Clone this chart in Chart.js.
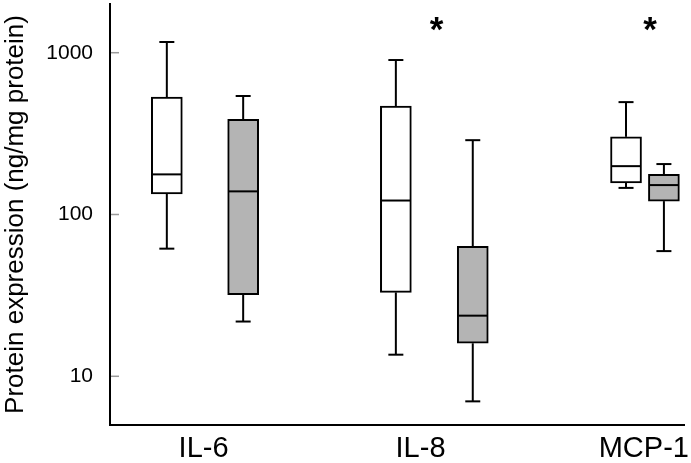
<!DOCTYPE html>
<html>
<head>
<meta charset="utf-8">
<script src="https://cdn.jsdelivr.net/npm/chart.js@4.4.1/dist/chart.umd.min.js"></script>
<style>
  html, body { margin: 0; padding: 0; background: #fff; }
  #wrap { width: 691px; height: 463px; }
</style>
</head>
<body>
<div id="wrap"><canvas id="chart" width="691" height="463"></canvas></div>
<script>
// Box plots of protein expression, white vs grey group, log scale.

const categories = ["IL-6", "IL-8", "MCP-1"];

const whiteMin = [61.5, 13.6, 146];
const whiteQ1 = [134, 33, 157];
const whiteMedian = [177, 122, 199];
const whiteQ3 = [532, 468, 302];
const whiteMax = [1165, 901, 495];

const greyMin = [21.8, 7.0, 59.4];
const greyQ1 = [31.9, 16.0, 121];
const greyMedian = [139, 23.7, 152];
const greyQ3 = [388, 63.5, 177];
const greyMax = [540, 288, 205];

const significant = ["", "*", "*"];
const yTicks = [10, 100, 1000];

// layout on the x axis (0..100 units)
const whiteX = [9.9, 49.8, 89.9];
const greyX = [23.2, 63.2, 96.5];
const labelX = [16.3, 54.1, 93.0];
const starX = [0, 56.9, 94.1];

const FONT = "'Liberation Sans', Arial, sans-serif";

const groups = [
  { min: whiteMin, q1: whiteQ1, med: whiteMedian, q3: whiteQ3, max: whiteMax, pos: whiteX, fill: "#ffffff" },
  { min: greyMin, q1: greyQ1, med: greyMedian, q3: greyQ3, max: greyMax, pos: greyX, fill: "#b4b4b4" }
];

const whiskerPlugin = {
  id: "whiskers",
  afterDatasetsDraw(chart) {
    const { ctx, scales: { x, y }, chartArea } = chart;
    const seg = (x1, y1, x2, y2) => {
      ctx.beginPath();
      ctx.moveTo(x1, y1);
      ctx.lineTo(x2, y2);
      ctx.stroke();
    };
    ctx.save();
    ctx.strokeStyle = "#000";
    ctx.lineWidth = 2;
    groups.forEach((g, di) => {
      chart.getDatasetMeta(di).data.forEach((bar, i) => {
        const cx = bar.x, half = bar.width / 2, cap = 7.5;
        const yMed = y.getPixelForValue(g.med[i]);
        seg(cx - half + 1, yMed, cx + half - 1, yMed);
        const yQ3 = y.getPixelForValue(g.q3[i]), yMax = y.getPixelForValue(g.max[i]);
        seg(cx, yQ3, cx, yMax);
        seg(cx - cap, yMax, cx + cap, yMax);
        const yQ1 = y.getPixelForValue(g.q1[i]), yMin = y.getPixelForValue(g.min[i]);
        seg(cx, yQ1, cx, yMin);
        seg(cx - cap, yMin, cx + cap, yMin);
      });
    });

    // small inner ticks on the y axis
    ctx.strokeStyle = "#9a9a9a";
    ctx.lineWidth = 1.5;
    yTicks.forEach(v => {
      const py = y.getPixelForValue(v);
      seg(chartArea.left + 1, py, chartArea.left + 9, py);
    });

    // significance marks
    ctx.fillStyle = "#000";
    ctx.font = "bold 35px " + FONT;
    ctx.textAlign = "center";
    ctx.textBaseline = "alphabetic";
    significant.forEach((s, i) => {
      if (s) ctx.fillText(s, x.getPixelForValue(starX[i]), chartArea.top + 37);
    });
    ctx.restore();
  }
};

new Chart(document.getElementById("chart"), {
  type: "bar",
  data: {
    datasets: groups.map(g => ({
      data: g.pos.map((p, i) => ({ x: p, y: [g.q1[i], g.q3[i]] })),
      backgroundColor: g.fill,
      borderColor: "#000",
      borderWidth: 2,
      borderSkipped: false,
      barThickness: 31,
      grouped: false
    }))
  },
  options: {
    responsive: false,
    animation: false,
    layout: { padding: { top: 4, right: 7, left: 0, bottom: 0 } },
    plugins: { legend: { display: false }, tooltip: { enabled: false } },
    scales: {
      x: {
        type: "linear",
        min: 0,
        max: 100,
        offset: false,
        grid: { display: false, drawTicks: false, offset: false },
        border: { display: true, color: "#000", width: 2 },
        afterBuildTicks: s => { s.ticks = labelX.map(v => ({ value: v })); },
        afterFit: s => { s.height = 38; s.paddingLeft = 0; s.paddingRight = 0; },
        ticks: {
          autoSkip: false,
          maxRotation: 0,
          padding: 7,
          color: "#000",
          font: { family: FONT, size: 29 },
          callback: (v, i) => categories[i]
        }
      },
      y: {
        type: "logarithmic",
        min: 5,
        max: 2000,
        grid: { display: false, drawTicks: false },
        border: { display: true, color: "#000", width: 2 },
        afterBuildTicks: s => { s.ticks = yTicks.map(v => ({ value: v })); },
        afterFit: s => { s.width = 110; s.paddingTop = 0; s.paddingBottom = 0; },
        ticks: {
          padding: 17,
          color: "#000",
          font: { family: FONT, size: 21 },
          callback: v => String(v)
        },
        title: {
          display: true,
          text: "Protein expression (ng/mg protein)",
          color: "#000",
          padding: 0,
          font: { family: FONT, size: 26 }
        }
      }
    }
  },
  plugins: [whiskerPlugin]
});
</script>
</body>
</html>
